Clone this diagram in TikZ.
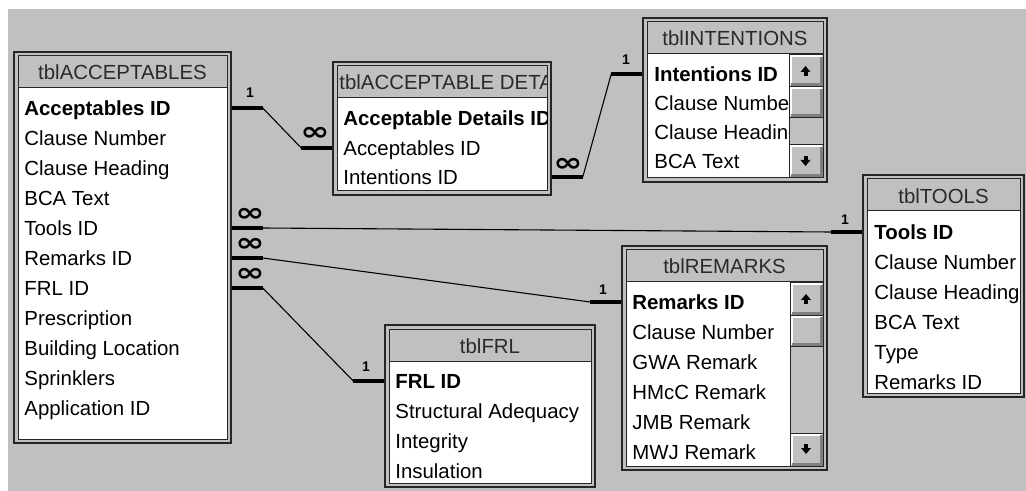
\documentclass[tikz,border=0pt]{standalone}
\usepackage{fontspec}
\setmainfont{Liberation Sans}
\newfontfamily\symfont{DejaVu Sans}
\usetikzlibrary{fit}

\definecolor{wingray}{HTML}{C0C0C0}
\definecolor{frameline}{HTML}{262626}
\definecolor{titletext}{HTML}{2A2A2A}
\definecolor{btnshadow}{HTML}{808080}

% table window: name, x1, y1, x2, y2 (pixels, y down)
\newcommand{\dbframe}[5]{%
  \node[tbl, fit={(#2,#3) (#4,#5)}] (#1) {};
  \draw[tblbody] ({#2+4},{#3+4}) rectangle ({#4-4},{#5-4});
  \draw[tblbar] ({#2+4},{#3+4}) rectangle ({#4-4},{#3+36});
}
% scroll bar button: x1, x2, y1, y2
\newcommand{\sbbtn}[4]{%
  \draw[frameline, line width=0.5pt, fill=wingray] (#1,{#3}) rectangle (#2,{#4});
  \draw[white, line width=1pt] ({#1+1.5},{#4-1.5}) |- ({#2-1.5},{#3+1.5});
  \draw[btnshadow, line width=1.5pt] ({#1+2},{#4-2}) -| ({#2-2},{#3+2});
}
% scroll bar: x1, x2, ytop, ybottom
\newcommand{\sbar}[4]{%
  \draw[frameline, line width=0.5pt, fill=wingray] (#1,#3) rectangle (#2,#4);
  \sbbtn{#1}{#2}{#3}{#3+32}
  \sbbtn{#1}{#2}{#3+32}{#3+63}
  \sbbtn{#1}{#2}{#4-33}{#4}
  \pgfmathsetmacro\cx{(#1+#2)/2-0.5}
  \pgfmathsetmacro\cu{#3+16}
  \pgfmathsetmacro\cd{#4-17}
  \fill (\cx-5,\cu+1) -- (\cx+5,\cu+1) -- (\cx,\cu-5) -- cycle;
  \fill (\cx-2,\cu) rectangle (\cx+2,\cu+5);
  \fill (\cx-5,\cd-1) -- (\cx+5,\cd-1) -- (\cx,\cd+5) -- cycle;
  \fill (\cx-2,\cd) rectangle (\cx+2,\cd-5);
}
\newcommand{\manymark}{\scalebox{1.35}[1]{∞}}

\begin{document}
\begin{tikzpicture}[x=0.5pt,y=-0.5pt,
  tbl/.style={draw=frameline,line width=0.75pt,fill=wingray,inner sep=0pt},
  tblbody/.style={draw=frameline,line width=0.5pt,fill=white},
  tblbar/.style={draw=frameline,line width=0.5pt,fill=wingray},
  tbltitle/.style={font=\fontsize{10.2}{12}\selectfont,text=titletext,inner sep=0pt,
    text height=7.3pt,text depth=0pt},
  fld/.style={anchor=west,font=\fontsize{10.2}{12}\selectfont,inner sep=0pt,
    text height=7.3pt,text depth=0pt},
  keyfld/.style={fld,font=\fontsize{10.2}{12}\selectfont\bfseries},
  rel/.style={line width=0.55pt,black},
  relend/.style={line width=2pt,black},
  one/.style={font=\fontsize{7}{8}\selectfont\bfseries,inner sep=0pt},
  many/.style={font=\fontsize{13}{13}\symfont\bfseries,inner sep=0pt}]
\useasboundingbox (0,0) rectangle (1026,491);
\fill[white] (0,0) rectangle (1026,491);
\fill[wingray] (8,9) rectangle (1026,491);

% tblACCEPTABLES
\dbframe{acc}{14}{52}{231}{443}
\node[tbltitle] (acc-t) at (122.5,72) {tblACCEPTABLES};
\node[keyfld] (acc-1) at (24,108) {Acceptables ID};
\foreach \f [count=\i from 2] in {Clause Number,Clause Heading,BCA Text,Tools ID,Remarks ID,FRL ID,Prescription,Building Location,Sprinklers,Application ID}
  \node[fld] (acc-\i) at (24,{78+30*\i}) {\f};

% tblACCEPTABLE DETAILS
\dbframe{det}{333}{62}{551}{195}
\begin{scope}
  \clip (337,66) rectangle (547,98);
  \node[tbltitle,anchor=west] (det-t) at (339,82) {tblACCEPTABLE DETAILS};
\end{scope}
\begin{scope}
  \clip (337,98) rectangle (547,191);
  \node[keyfld] (det-1) at (343,118) {Acceptable Details ID};
  \node[fld] (det-2) at (343,148) {Acceptables ID};
  \node[fld] (det-3) at (343,177) {Intentions ID};
\end{scope}

% tblINTENTIONS
\dbframe{int}{643}{18}{827}{182}
\node[tbltitle] (int-t) at (735,38) {tblINTENTIONS};
\begin{scope}
  \clip (647,55) rectangle (789,178);
  \node[keyfld] (int-1) at (654,74) {Intentions ID};
  \node[fld] (int-2) at (654,103) {Clause Number};
  \node[fld] (int-3) at (654,132) {Clause Heading};
  \node[fld] (int-4) at (654,161) {BCA Text};
\end{scope}
\sbar{789}{823}{55}{178}

% tblTOOLS
\dbframe{tools}{863}{175}{1024}{397}
\node[tbltitle] (tools-t) at (943.5,196) {tblTOOLS};
\begin{scope}
  \clip (867,211) rectangle (1020,393);
  \node[keyfld] (tools-1) at (874,232) {Tools ID};
  \foreach \f [count=\i from 2] in {Clause Number,Clause Heading,BCA Text,Type,Remarks ID}
    \node[fld] (tools-\i) at (874,{202+30*\i}) {\f};
\end{scope}

% tblREMARKS
\dbframe{rem}{622}{246}{827}{470}
\node[tbltitle] (rem-t) at (724.5,266) {tblREMARKS};
\node[keyfld] (rem-1) at (632,302) {Remarks ID};
\foreach \f [count=\i from 2] in {Clause Number,GWA Remark,HMcC Remark,JMB Remark,MWJ Remark}
  \node[fld] (rem-\i) at (632,{272+30*\i}) {\f};
\sbar{790}{823}{283}{466}

% tblFRL
\dbframe{frl}{385}{325}{595}{487}
\node[tbltitle] (frl-t) at (490,346) {tblFRL};
\node[keyfld] (frl-1) at (395,381) {FRL ID};
\foreach \f [count=\i from 2] in {Structural Adequacy,Integrity,Insulation}
  \node[fld] (frl-\i) at (395,{351+30*\i}) {\f};

% relationships
\draw[relend] (acc.east|-acc-1) -- ++(31,0) coordinate (r1a);
\draw[relend] (det.west|-det-2) -- ++(-31,0) coordinate (r1b);
\draw[rel] (r1a) -- (r1b);
\node[one] (r1-one) at (250,93) {1};
\node[many] (r1-many) at (315,134) {\manymark};

\draw[relend] (det.east|-det-3) -- ++(31,0) coordinate (r2a);
\draw[relend] (int.west|-int-1) -- ++(-31,0) coordinate (r2b);
\draw[rel] (r2a) -- (r2b);
\node[many] (r2-many) at (568,165) {\manymark};
\node[one] (r2-one) at (626,60) {1};

\draw[relend] (acc.east|-acc-5) -- ++(31,0) coordinate (r3a);
\draw[relend] (tools.west|-tools-1) -- ++(-31,0) coordinate (r3b);
\draw[rel] (r3a) -- (r3b);
\node[many] (r3-many) at (250,215) {\manymark};
\node[one] (r3-one) at (845,220) {1};

\draw[relend] (acc.east|-acc-6) -- ++(31,0) coordinate (r4a);
\draw[relend] (rem.west|-rem-1) -- ++(-31,0) coordinate (r4b);
\draw[rel] (r4a) -- (r4b);
\node[many] (r4-many) at (250,245) {\manymark};
\node[one] (r4-one) at (603,290) {1};

\draw[relend] (acc.east|-acc-7) -- ++(31,0) coordinate (r5a);
\draw[relend] (frl.west|-frl-1) -- ++(-31,0) coordinate (r5b);
\draw[rel] (r5a) -- (r5b);
\node[many] (r5-many) at (250,275) {\manymark};
\node[one] (r5-one) at (366,367) {1};
\end{tikzpicture}
\end{document}
